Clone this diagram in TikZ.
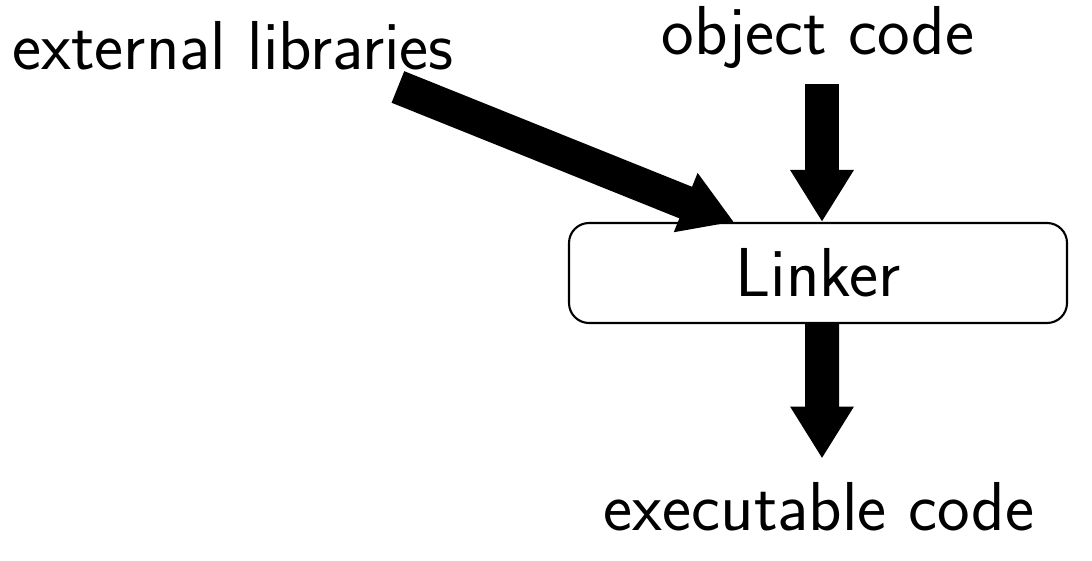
\documentclass[tikz,border=0pt]{standalone}
\usepackage{fontspec}
\usetikzlibrary{arrows.meta}

\tikzset{
  label text/.style={font=\fontsize{19.7}{23}\selectfont\sffamily, anchor=base},
  linkerbox/.style={draw, line width=0.6pt, rounded corners=0.2cm,
    minimum width=4.98cm, minimum height=1.0cm,
    font=\fontsize{19.7}{23}\selectfont\sffamily},
  fatarrow/.style={line width=0.34cm, -{Triangle[length=0.52cm,width=0.6cm]}}
}

\begin{document}
\begin{tikzpicture}
\useasboundingbox (0,0) rectangle (10.92,5.60);

% Inputs and output
\node[label text] (ext) at (2.33,4.90) {external libraries};
\node[label text] (obj) at (8.18,5.05) {object code};
\node[label text] (exe) at (8.19,0.30) {executable code};

% Linker
\node[linkerbox] (linker) at (8.18,2.87) {Linker};

% Arrows
\draw[fatarrow] ([xshift=-0.68cm,yshift=-0.04cm]ext.south east) -- ([xshift=1.66cm]linker.north west);
\draw[fatarrow] ([xshift=0.04cm,yshift=-0.03cm]obj.south) -- ([xshift=0.04cm]obj.south |- linker.north);
\draw[fatarrow] ([xshift=0.04cm]linker.south) -- ([xshift=0.03cm,yshift=0.11cm]exe.north);
\end{tikzpicture}
\end{document}
